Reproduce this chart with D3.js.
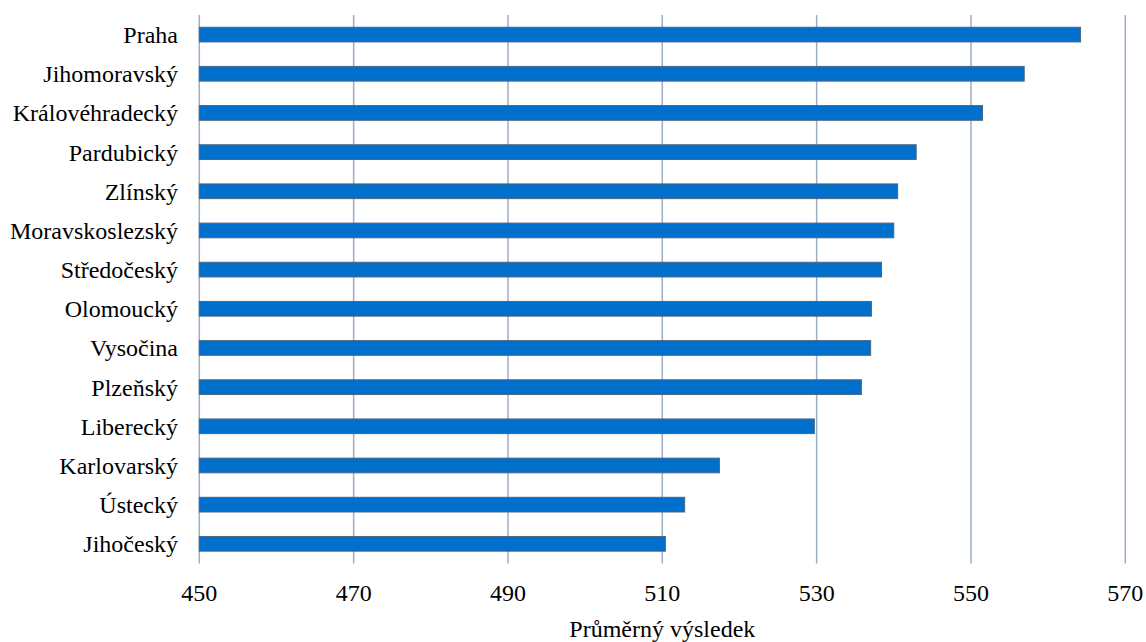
<!DOCTYPE html>
<html>
<head>
<meta charset="utf-8">
<script src="https://cdn.jsdelivr.net/npm/d3@7"></script>
<style>
  body { margin: 0; background: #fff; }
</style>
</head>
<body>
<svg width="1146" height="642"></svg>
<script>
var regions = ["Praha", "Jihomoravský", "Královéhradecký", "Pardubický", "Zlínský", "Moravskoslezský",
  "Středočeský", "Olomoucký", "Vysočina", "Plzeňský", "Liberecký", "Karlovarský", "Ústecký", "Jihočeský"];
var scores = [564.2, 556.9, 551.5, 542.9, 540.5, 540.0, 538.4, 537.1, 537.0, 535.8, 529.7, 517.4, 512.9, 510.4];
var ticks = [450, 470, 490, 510, 530, 550, 570];
var axisTitle = "Průměrný výsledek";

var svg = d3.select("svg");
var fontSize = "24px";
var fontFamily = "'Liberation Serif', 'DejaVu Serif', serif";

var x = d3.scaleLinear().domain([450, 570]).range([199.3, 1125.3]);
var y = d3.scaleBand().domain(regions).range([15, 563.4])
  .paddingInner(0.625).paddingOuter(0.3125);

// gridlines
svg.selectAll(".grid").data(ticks).enter()
  .append("line")
  .attr("class", "grid")
  .attr("x1", d => x(d)).attr("x2", d => x(d))
  .attr("y1", y.range()[0]).attr("y2", y.range()[1])
  .style("stroke", "#9dadc6")
  .style("stroke-width", 1.5);

// bars
svg.selectAll(".bar").data(regions).enter()
  .append("rect")
  .attr("class", "bar")
  .attr("x", x(450))
  .attr("y", d => y(d))
  .attr("width", (d, i) => x(scores[i]) - x(450))
  .attr("height", y.bandwidth())
  .style("fill", "#0070cc")
  .style("stroke", "#4d6580")
  .style("stroke-width", 1);

// category labels
svg.selectAll(".cat").data(regions).enter()
  .append("text")
  .attr("class", "cat")
  .attr("x", 178)
  .attr("y", d => y(d) + y.bandwidth() / 2)
  .attr("dy", "0.35em")
  .attr("font-family", fontFamily)
  .attr("font-size", fontSize)
  .attr("text-anchor", "end")
  .text(d => d);

// tick labels
svg.selectAll(".tick").data(ticks).enter()
  .append("text")
  .attr("class", "tick")
  .attr("x", d => x(d))
  .attr("y", 601)
  .attr("font-family", fontFamily)
  .attr("font-size", fontSize)
  .attr("text-anchor", "middle")
  .text(d => d);

svg.append("text")
  .attr("x", (x.range()[0] + x.range()[1]) / 2)
  .attr("y", 637)
  .attr("font-family", fontFamily)
  .attr("font-size", fontSize)
  .attr("text-anchor", "middle")
  .text(axisTitle);
</script>
</body>
</html>
